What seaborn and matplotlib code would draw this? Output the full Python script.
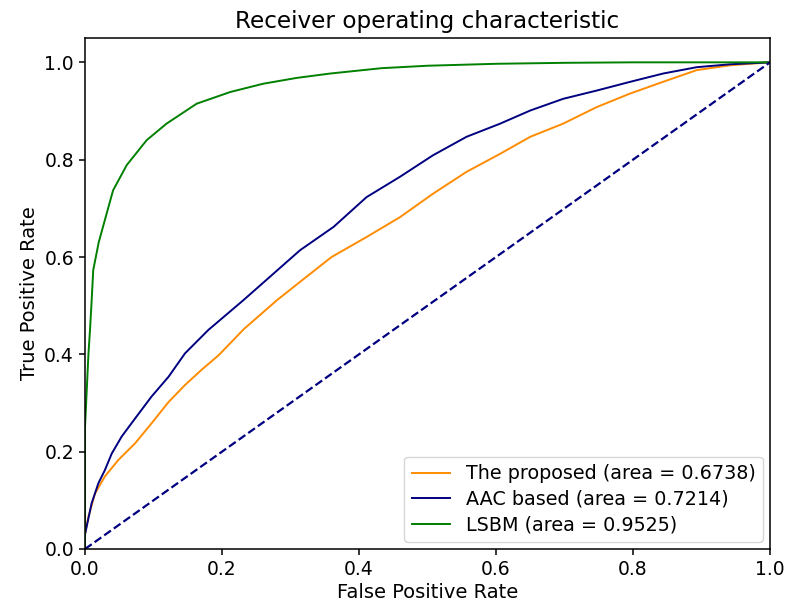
import matplotlib
matplotlib.use("Agg")
import matplotlib.pyplot as plt
import seaborn as sns
import pandas as pd

# --- data ---
proposed_fpr = [0, 0, 0.0049, 0.0146, 0.029, 0.0487, 0.073, 0.097, 0.122, 0.146, 0.170, 0.195,
                0.232, 0.28, 0.314, 0.36, 0.411, 0.46, 0.508, 0.557, 0.606, 0.65, 0.698, 0.747,
                0.796, 0.844, 0.893, 0.942, 1.0]
proposed_tpr = [0, 0.03, 0.066, 0.114, 0.149, 0.183, 0.217, 0.258, 0.302, 0.337, 0.368, 0.398,
                0.452, 0.511, 0.549, 0.600, 0.641, 0.682, 0.730, 0.775, 0.812, 0.847, 0.874, 0.908,
                0.936, 0.960, 0.984, 0.994, 1.0]

aac_fpr = [0, 0, 0.0024, 0.0097, 0.0195, 0.029, 0.039, 0.0535, 0.073, 0.097, 0.122, 0.146,
           0.180, 0.231, 0.314, 0.363, 0.411, 0.46, 0.508, 0.557, 0.606, 0.65, 0.698, 0.747,
           0.796, 0.844, 0.893, 0.942, 1.0]
aac_tpr = [0, 0.03, 0.046, 0.094, 0.135, 0.162, 0.196, 0.231, 0.268, 0.313, 0.354, 0.402,
           0.450, 0.511, 0.614, 0.662, 0.723, 0.765, 0.809, 0.847, 0.874, 0.901, 0.925, 0.942,
           0.960, 0.977, 0.990, 0.996, 1.0]

lsbm_fpr = [0, 0, 0.002, 0.005, 0.0073, 0.0097, 0.012, 0.02, 0.029, 0.041, 0.061, 0.09, 0.119,
            0.163, 0.212, 0.26, 0.309, 0.358, 0.433, 0.5, 0.6, 0.7, 0.8, 1.0]
lsbm_tpr = [0, 0.25, 0.31, 0.40, 0.45, 0.51, 0.573, 0.63, 0.676, 0.737, 0.789, 0.840, 0.874,
            0.915, 0.939, 0.956, 0.968, 0.977, 0.988, 0.993, 0.997, 0.999, 1.0, 1.0]

labels = ["The proposed (area = 0.6738)", "AAC based (area = 0.7214)", "LSBM (area = 0.9525)"]
colors = ["darkorange", "navy", "green"]
diag = [0, 1]

frames = []
for fpr, tpr, lab in [(proposed_fpr, proposed_tpr, labels[0]),
                      (aac_fpr, aac_tpr, labels[1]),
                      (lsbm_fpr, lsbm_tpr, labels[2])]:
    frames.append(pd.DataFrame({"fpr": fpr, "tpr": tpr, "model": lab}))
df = pd.concat(frames, ignore_index=True)

plt.rcParams["font.family"] = ["DejaVu Sans"]
fig = plt.figure(figsize=(7.89, 6.09), dpi=100)
ax = fig.add_axes([85/789, 1 - 549/609, (770-85)/789, (549-38)/609])

sns.lineplot(data=df, x="fpr", y="tpr", hue="model", hue_order=labels,
             palette=dict(zip(labels, colors)), sort=False, estimator=None,
             units="model", lw=1.4, ax=ax)
ax.plot(diag, diag, color="navy", lw=1.6, linestyle="--")

ax.set_xlim(0.0, 1.0)
ax.set_ylim(0.0, 1.05)
ax.set_xticks([0, 0.2, 0.4, 0.6, 0.8, 1.0])
ax.set_yticks([0, 0.2, 0.4, 0.6, 0.8, 1.0])
ax.tick_params(labelsize=13.5, length=4.5, width=1.1)
for s in ax.spines.values():
    s.set_linewidth(1.1)
ax.set_xlabel("False Positive Rate", fontsize=14, labelpad=3)
ax.set_ylabel("True Positive Rate", fontsize=14, labelpad=4)
ax.set_title("Receiver operating characteristic", fontsize=16.7, pad=7)
leg = ax.legend(loc="lower right", fontsize=13.8, handlelength=2.0, borderaxespad=0.35,
                labelspacing=0.35)

fig.savefig("out.png", dpi=100)
